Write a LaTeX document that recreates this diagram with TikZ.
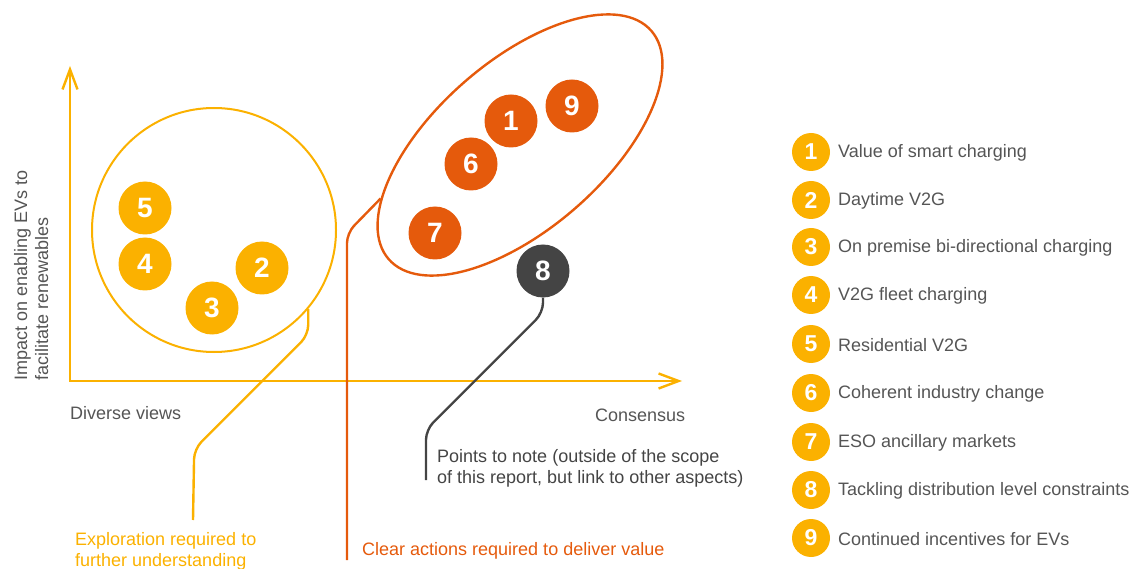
\documentclass[tikz,border=0pt]{standalone}
\usepackage{fontspec}
\setmainfont{Liberation Sans}
\usetikzlibrary{shapes.geometric,arrows.meta}

\definecolor{ylw}{HTML}{FBB100}
\definecolor{org}{HTML}{E55A0C}
\definecolor{drk}{HTML}{444444}
\definecolor{gry}{HTML}{555555}

\tikzset{
  axis/.style={draw=ylw, line width=2.4pt},
  axistip/.tip={Straight Barb[length=20pt,width=15pt]},
  big/.style={circle, inner sep=0pt, minimum size=53pt, text=white,
    font=\fontsize{28}{28}\selectfont\bfseries},
  key/.style={circle, fill=ylw, inner sep=0pt, minimum size=38pt, text=white,
    font=\fontsize{23}{23}\selectfont\bfseries},
  label/.style={inner sep=0pt, text=gry, font=\fontsize{18}{21}\selectfont},
  leader/.style={line width=2.4pt, rounded corners=10pt}
}

\begin{document}
\begin{tikzpicture}[x=1pt, y=-1pt]
      \useasboundingbox (0,0) rectangle (1135,569);

      % axes
      \coordinate (origin) at (70,381);
      \coordinate (ytip) at (70,66);
      \coordinate (xtip) at (682,381);
      \draw[axis, axistip-axistip] (ytip) -- (origin) -- (xtip);

      \node[label, rotate=90, anchor=north west, align=left] (ylab) at (14,381)
        {Impact on enabling EVs to\\facilitate renewables};
      \node[label, anchor=west] (diverse) at (70,413) {Diverse views};
      \node[label, anchor=west] (consensus) at (595,415) {Consensus};

      % groups
      \node[circle, draw=ylw, line width=2pt, minimum size=244pt] (explore) at (214,230) {};
      \node[ellipse, draw=org, line width=2.4pt, minimum width=348pt,
        minimum height=168pt, rotate=41] (act) at (520,145) {};

      \node[big, fill=ylw] (5) at (145,208) {5};
      \node[big, fill=ylw] (4) at (145,264) {4};
      \node[big, fill=ylw] (2) at (262,268) {2};
      \node[big, fill=ylw] (3) at (212,308) {3};
      \node[big, fill=org] (9) at (572,106) {9};
      \node[big, fill=org] (1) at (511,121) {1};
      \node[big, fill=org] (6) at (471,164) {6};
      \node[big, fill=org] (7) at (435,233) {7};
      \node[big, fill=drk] (8) at (543,271) {8};

      % leaders and notes
      \coordinate (exploreend) at (193,520);
      \coordinate (actend) at (347,560);
      \coordinate (noteend) at (426,480);
      \draw[leader, draw=ylw] (explore.-40) -- ++(0,26) -- ++(-114,114) -- (exploreend);
      \draw[leader, draw=org] (act.160) -- (347,233) -- (actend);
      \draw[leader, draw=drk] (8.south) -- ++(0,15) -- ++(-117,117) -- (noteend);

      \node[label, text=ylw, anchor=west, align=left] (explorenote) at (75,551)
        {Exploration required to\\further understanding};
      \node[label, text=org, anchor=west] (actnote) at (362,551)
        {Clear actions required to deliver value};
      \node[label, text=drk, anchor=west, align=left] (pointnote) at (437,468)
        {Points to note (outside of the scope\\of this report, but link to other aspects)};

      % key
      \node[key] (k1) at (811,152) {1};
      \node[key] (k2) at (811,200) {2};
      \node[key] (k3) at (811,247) {3};
      \node[key] (k4) at (811,295) {4};
      \node[key] (k5) at (811,344) {5};
      \node[key] (k6) at (811,393) {6};
      \node[key] (k7) at (811,442) {7};
      \node[key] (k8) at (811,490) {8};
      \node[key] (k9) at (811,538) {9};
      \node[label, anchor=west] (t1) at (838,153) {Value of smart charging};
      \node[label, anchor=west] (t2) at (838,201) {Daytime V2G};
      \node[label, anchor=west] (t3) at (838,248) {On premise bi-directional charging};
      \node[label, anchor=west] (t4) at (838,296) {V2G fleet charging};
      \node[label, anchor=west] (t5) at (838,345) {Residential V2G};
      \node[label, anchor=west] (t6) at (838,394) {Coherent industry change};
      \node[label, anchor=west] (t7) at (838,443) {ESO ancillary markets};
      \node[label, anchor=west] (t8) at (838,491) {Tackling distribution level constraints};
      \node[label, anchor=west] (t9) at (838,539) {Continued incentives for EVs};
    \end{tikzpicture}
\end{document}
